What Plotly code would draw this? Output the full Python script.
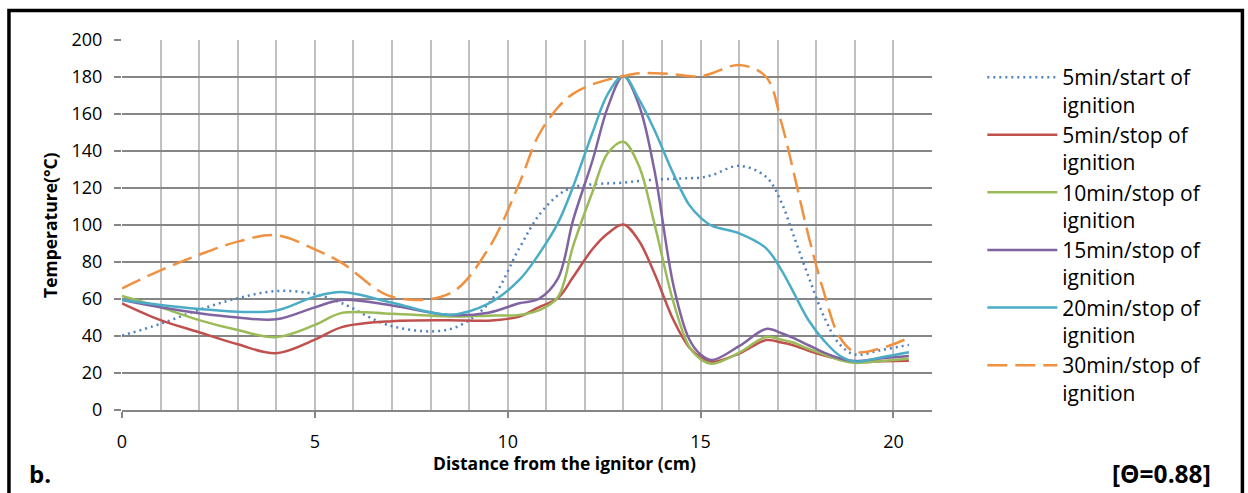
import plotly.graph_objects as go

# ---------------- data ----------------
distance_cm = [0, 1, 2, 3, 4, 5, 5.7, 7, 8.5, 9.5, 10.3, 10.8, 11.3, 11.7, 12.2, 12.6,
               13, 13.4, 13.8, 14.3, 14.7, 15, 15.3, 16, 16.7, 17.1, 17.4, 17.8,
               18.2, 18.6, 19, 19.7, 20.4]

start_5min = [40.2, 46.6, 54.2, 60.4, 64.3, 62.7, 57.7, 45.3, 43.7, 57.5, 87.5, 105,
              116, 120.5, 122, 122.5, 122.9, 123.8, 124.5, 125, 125.3, 125.6, 127, 132,
              126, 112, 95, 72, 50.5, 35.6, 30, 32.5, 35.2]
stop_5min = [57.7, 48.6, 42, 35.5, 30.7, 38, 44.8, 48, 48.5, 48.3, 50.5, 55.5,
             60.5, 72, 87, 95.5, 100.3, 91.5, 74, 48.5, 34, 28.5, 26, 30.5,
             37.8, 36.5, 35, 32, 29.5, 27.5, 26, 26.3, 26.6]
stop_10min = [61.6, 55.5, 48.6, 43.2, 39.4, 46, 52.5, 52, 50.5, 51, 51.4, 53.8,
              61, 89, 118, 139, 145, 132, 101, 58, 34.5, 27.5, 25, 31,
              39.5, 38, 36.5, 33, 30, 27, 25.5, 26.5, 27.7]
stop_15min = [59.5, 55.5, 52.3, 50, 49, 55.5, 59.5, 56.5, 51.3, 52.6, 57.7, 60,
              71, 103, 135, 164, 180.5, 165, 130, 67, 38.5, 30, 27, 34.5,
              43.8, 41.5, 39, 35, 31, 28, 26.5, 28, 29.2]
stop_20min = [59.5, 56.8, 54.6, 53.1, 53.8, 61.3, 63.8, 58, 51.5, 57.5, 70.3, 84,
              101, 121, 150, 171, 180.5, 168, 151.5, 127.5, 111, 104, 99.5, 95.5,
              87.4, 75.5, 64, 48.5, 37.5, 29.5, 26.2, 28.5, 31.2]
stop_30min = [65.8, 75.5, 83.9, 91, 94.5, 86.8, 79.5, 61.2, 63, 87.2, 122.5, 148.5,
              163.5, 171, 176, 178.6, 180.5, 182, 182, 181.5, 180.5, 180.3, 182, 186.5,
              180, 155, 129.7, 94, 63.5, 39.6, 31.5, 33.5, 39]

series_names = ["5min/start of<br>ignition", "5min/stop of<br>ignition",
                "10min/stop of<br>ignition", "15min/stop of<br>ignition",
                "20min/stop of<br>ignition", "30min/stop of<br>ignition"]
series_values = [start_5min, stop_5min, stop_10min, stop_15min, stop_20min, stop_30min]
series_colors = ["#4F81BD", "#C0504D", "#9BBB59", "#8064A2", "#4BACC6", "#F0913F"]
series_dash = ["2px,4px", "solid", "solid", "solid", "solid", "20px,8px"]

# ---------------- layout geometry ----------------
W, H = 1248, 493
L, R, T, B = 122, 316.3, 40, 83


def px_x(px):
    return (px - L) / (W - L - R)


def px_y(py):
    return (H - B - py) / (H - T - B)


FONT = "Open Sans"

fig = go.Figure()
for name, vals, col, dash in zip(series_names, series_values, series_colors, series_dash):
    fig.add_trace(go.Scatter(
        x=distance_cm, y=vals, name=name, mode="lines",
        line=dict(color=col, width=2.5, dash=dash, shape="spline", smoothing=1.0),
    ))

fig.update_layout(
    width=W, height=H,
    margin=dict(l=L, r=R, t=T, b=B, autoexpand=False),
    paper_bgcolor="white", plot_bgcolor="white",
    font=dict(family=FONT, color="black"),
    showlegend=True,
    legend=dict(
        x=px_x(982), y=px_y(57), xanchor="left", yanchor="top",
        font=dict(family=FONT, size=21, color="black"),
        itemwidth=70, valign="top", bgcolor="rgba(0,0,0,0)",
        tracegroupgap=0,
    ),
    xaxis=dict(
        range=[0, 21], tick0=0, dtick=5, showgrid=True,
        gridcolor="#c0c0c0", gridwidth=2,
        minor=dict(dtick=1, showgrid=True, gridcolor="#c0c0c0", gridwidth=2, ticks=""),
        ticks="outside", ticklen=6, tickcolor="#868686", tickwidth=1.5,
        zeroline=False, showline=True, linecolor="#868686", linewidth=1.5,
        tickfont=dict(family=FONT, size=18, color="black"),
        ticklabelstandoff=9,
    ),
    yaxis=dict(
        range=[0, 200], tick0=0, dtick=20, showgrid=True,
        gridcolor="#868686", gridwidth=1.5,
        ticks="outside", ticklen=7, tickcolor="#868686", tickwidth=1.5,
        zeroline=False, showline=False,
        tickfont=dict(family=FONT, size=18, color="black"),
        ticklabelstandoff=8,
    ),
    shapes=[
        dict(type="rect", xref="paper", yref="paper",
             x0=px_x(9), x1=px_x(1242), y0=px_y(520), y1=px_y(10.5),
             line=dict(color="black", width=3.5), fillcolor="rgba(0,0,0,0)", layer="above"),
    ],
    annotations=[
        dict(text="<b>Temperature(°C)</b>", x=px_x(50), y=px_y(225), xref="paper", yref="paper",
             textangle=-90, showarrow=False, xanchor="center", yanchor="middle",
             font=dict(family=FONT, size=17.5, color="black")),
        dict(text="<b>Distance from the ignitor (cm)</b>", x=px_x(564), y=px_y(463),
             xref="paper", yref="paper", showarrow=False, xanchor="center", yanchor="middle",
             font=dict(family=FONT, size=17.5, color="black")),
        dict(text="<b>b.</b>", x=px_x(27), y=px_y(473), xref="paper", yref="paper",
             showarrow=False, xanchor="left", yanchor="middle",
             font=dict(family=FONT, size=24, color="black")),
        dict(text="<b>[Θ=0.88]</b>", x=px_x(1213), y=px_y(473), xref="paper", yref="paper",
             showarrow=False, xanchor="right", yanchor="middle",
             font=dict(family=FONT, size=24.5, color="black")),
    ],
)

fig.write_html("out.html")
